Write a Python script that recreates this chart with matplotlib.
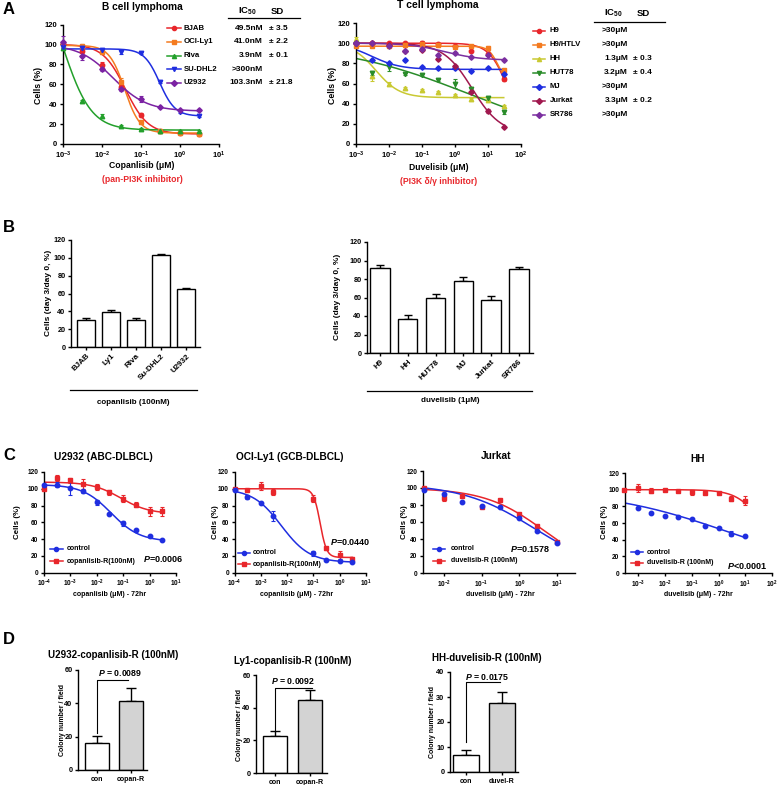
import matplotlib
matplotlib.use('Agg')
import matplotlib.pyplot as plt
import numpy as np
from matplotlib.ticker import FuncFormatter, NullLocator

plt.rcParams['font.family'] = ['Liberation Sans', 'DejaVu Sans']
plt.rcParams['font.weight'] = 'bold'
plt.rcParams['mathtext.fontset'] = 'custom'
plt.rcParams['mathtext.rm'] = 'Liberation Sans:bold'
plt.rcParams['mathtext.bf'] = 'Liberation Sans:bold'
plt.rcParams['mathtext.it'] = 'Liberation Sans:italic:bold'
plt.rcParams['axes.linewidth'] = 1.0

W, H = 778, 785

# ---------------- A : B cell lymphoma (copanlisib) ----------------
dose_a1 = [0.001, 0.003, 0.01, 0.03, 0.1, 0.3, 1, 3]
a1_names = ['BJAB', 'OCI-Ly1', 'Riva', 'SU-DHL2', 'U2932']
a1_ic50 = ['49.5nM', '41.0nM', '3.9nM', '>300nM', '103.3nM']
a1_sd = ['± 3.5', '± 2.2', '± 0.1', '', '± 21.8']
bjab = [100, 93, 79, 57, 29, 13, 11, 10]
oci_ly1 = [100, 98, 92, 62, 22, 13, 11, 10]
riva = [96, 43, 28, 18, 15, 13, 13, 13]
su_dhl2 = [97, 96, 94, 92, 91, 62, 32, 28]
u2932 = [102, 88, 75, 55, 45, 37, 34, 34]
bjab_sd = [1, 2, 3, 2, 2, 1, 1, 1]
oci_ly1_sd = [1, 2, 2, 4, 2, 1, 1, 1]
riva_sd = [1, 1, 2, 1, 1, 1, 1, 1]
su_dhl2_sd = [1, 1, 1, 2, 1, 1, 1, 1]
u2932_sd = [6, 4, 2, 2, 3, 1, 1, 1]
# fitted curves: top, bottom, IC50 (uM), hill
a1_fits = [(100, 10, 0.04, 1.5), (99, 11, 0.038, 2.2), (180, 14, 0.001, 1.2),
           (95.5, 28, 0.3, 2.2), (100, 33, 0.019, 1.0)]
a1_colors = ['#e8262b', '#f47b20', '#23a02b', '#1f2ee0', '#7b22a3']
a1_markers = ['o', 's', '^', 'v', 'D']

# ---------------- A : T cell lymphoma (duvelisib) ----------------
dose_a2 = [0.001, 0.003, 0.01, 0.03, 0.1, 0.3, 1, 3, 10, 30]
a2_names = ['H9', 'H9/HTLV', 'HH', 'HUT78', 'MJ', 'Jurkat', 'SR786']
a2_ic50 = ['>30μM', '>30μM', '1.3μM', '3.2μM', '>30μM', '3.3μM', '>30μM']
a2_sd = ['', '', '± 0.3', '± 0.4', '', '± 0.2', '']
h9 = [100, 100, 100, 100, 100, 99, 97, 92, 89, 64]
h9_htlv = [97, 97, 97, 98, 99, 98, 96, 97, 95, 73]
hh = [104, 67, 60, 56, 54, 52, 49, 45, 44, 38]
hut78 = [99, 70, 76, 69, 68, 63, 60, 55, 46, 32]
mj = [100, 83, 80, 83, 76, 75, 75, 72, 75, 69]
jurkat = [100, 100, 98, 92, 93, 84, 77, 52, 33, 17]
sr786 = [100, 100, 97, 92, 94, 88, 90, 86, 88, 83]
h9_sd = [1, 1, 1, 1, 2, 1, 1, 1, 1, 2]
h9_htlv_sd = [1, 1, 1, 2, 3, 2, 1, 1, 2, 1]
hh_sd = [2, 5, 1, 1, 1, 1, 1, 1, 1, 1]
hut78_sd = [1, 2, 4, 1, 1, 1, 4, 2, 2, 2]
mj_sd = [1, 1, 1, 1, 1, 1, 1, 1, 1, 1]
jurkat_sd = [1, 1, 1, 1, 1, 1, 1, 1, 2, 1]
sr786_sd = [1, 1, 1, 1, 1, 1, 1, 1, 1, 1]
a2_fits = [(100, 0, 45, 1.5), (97, 60, 20, 3), (100, 46, 0.004, 1.2), (100, 0, 2.5, 0.22),
           (100, 74, 0.003, 1.0), (100, 10, 3.3, 1.0), (100, 83, 0.5, 0.8)]
a2_colors = ['#e8262b', '#f47b20', '#c9c932', '#2a8c2a', '#1f2ee0', '#a0184e', '#7b2fa0']
a2_markers = ['o', 's', '^', 'v', 'D', 'D', 'D']

# ---------------- B : day 3 / day 0 ----------------
b1_cells = ['BJAB', 'Ly1', 'Riva', 'Su-DHL2', 'U2932']
b1_vals = [30.5, 39.5, 30.5, 103, 64.5]
b1_err = [2.5, 1.5, 2.5, 1.5, 2]
b2_cells = ['H9', 'HH', 'HUT78', 'MJ', 'Jurkat', 'SR786']
b2_vals = [92, 37, 59.5, 78, 57, 91]
b2_err = [3, 4, 4, 4, 5, 2]

# ---------------- C : resistant lines ----------------
c_titles = ['U2932 (ABC-DLBCL)', 'OCI-Ly1 (GCB-DLBCL)', 'Jurkat', 'HH']
c_xlabels = ['copanlisib (μM) - 72hr', 'copanlisib (μM) - 72hr',
             'duvelisib (μM) - 72hr', 'duvelisib (μM) - 72hr']
c_res_labels = ['copanlisib-R(100nM)', 'copanlisib-R(100nM)',
                'duvelisib-R (100nM)', 'duvelisib-R (100nM)']
c_pvals = [r'$\mathit{P}$=0.0006', r'$\mathit{P}$=0.0440',
           r'$\mathit{P}$=0.1578', r'$\mathit{P}$<0.0001']

c1_dose = [1e-4, 3e-4, 1e-3, 3e-3, 0.01, 0.03, 0.1, 0.3, 1, 3]
c1_ctrl = [104, 105, 101, 97, 84, 70, 59, 51, 43, 39]
c1_ctrl_sd = [1, 3, 8, 2, 3, 1, 3, 1, 1, 1]
c1_res = [100, 113, 110, 106, 102, 96, 88, 81, 73, 73]
c1_res_sd = [2, 4, 3, 6, 4, 3, 4, 3, 5, 5]

c2_dose_ctrl = [1e-4, 3e-4, 1e-3, 3e-3, 0.1, 0.3, 1, 3]
c2_ctrl = [99, 90, 83, 68, 23, 15, 14, 13]
c2_ctrl_sd = [1, 2, 1, 6, 3, 1, 1, 1]
c2_dose_res = [1e-4, 3e-4, 1e-3, 3e-3, 0.1, 0.3, 1, 3]
c2_res = [100, 99, 103, 96, 88, 29, 21, 16]
c2_res_sd = [1, 1, 5, 4, 4, 2, 5, 2]

c3_dose = [0.003, 0.01, 0.03, 0.1, 0.3, 1, 3, 10]
c3_ctrl = [98, 93, 84, 79, 78, 65, 50, 35]
c3_ctrl_sd = [1, 1, 1, 1, 1, 1, 1, 1]
c3_res = [100, 88, 91, 78, 86, 69, 55, 37]
c3_res_sd = [1, 3, 1, 1, 1, 1, 1, 1]

c4_dose = [3e-4, 1e-3, 3e-3, 0.01, 0.03, 0.1, 0.3, 1, 3, 10]
c4_ctrl = [np.nan, 78, 72, 68, 67, 65, 57, 54, 47, 45]
c4_ctrl_sd = [0, 1, 1, 1, 1, 1, 1, 1, 3, 1]
c4_res = [100, 102, 99, 100, 99, 97, 96, 96, 89, 87]
c4_res_sd = [1, 5, 3, 1, 1, 3, 1, 1, 3, 5]

c_ctrl_fits = [(105, 37, 0.035, 0.8), (100, 12, 0.006, 0.8), (105, 0, 2.5, 0.45), (100, 0, 2.0, 0.189)]
c_res_fits = [(108, 70, 0.08, 0.8), (100, 18, 0.18, 3.5), (100, 0, 4.5, 0.55), (100, 0, 60, 0.9)]

# ---------------- D : colony formation ----------------
d_titles = ['U2932-copanlisib-R (100nM)', 'Ly1-copanlisib-R (100nM)', 'HH-duvelisib-R (100nM)']
d_groups = [['con', 'copan-R'], ['con', 'copan-R'], ['con', 'duvel-R']]
d_vals = [[16.5, 41.5], [22.5, 45], [7, 27.5]]
d_err = [[4, 8], [3, 6], [2, 4.6]]
d_pvals = [r'$\mathit{P}$ = 0.0089', r'$\mathit{P}$ = 0.0092', r'$\mathit{P}$ = 0.0175']
d_ymax = [60, 60, 40]
d_ystep = [20, 20, 10]
d_bracket = [(22, 54, 0.9), (26, 52, 1.06), (12, 36, 0.94)]


def logistic(x, top, bottom, ic50, hill):
    return bottom + (top - bottom) / (1 + (x / ic50) ** hill)


fig = plt.figure(figsize=(W / 100, H / 100), dpi=100)


def add_ax(l, t, r, b):
    return fig.add_axes([l / W, 1 - b / H, (r - l) / W, (b - t) / H])


def prism(ax, fs):
    for s in ['top', 'right']:
        ax.spines[s].set_visible(False)
    ax.tick_params(direction='out', length=2.5, width=1.0, labelsize=fs, pad=1.5)
    ax.set_facecolor('none')


def log_fmt(v, pos):
    return r'$\mathbf{10^{%d}}$' % int(round(np.log10(v)))


def dose_axes(ax, xlim, decades, fs):
    prism(ax, fs)
    ax.set_xscale('log')
    ax.set_xlim(*xlim)
    ax.set_ylim(0, 120)
    ax.set_yticks(range(0, 121, 20))
    ax.set_xticks([10.0 ** d for d in decades])
    ax.xaxis.set_major_formatter(FuncFormatter(log_fmt))
    ax.xaxis.set_minor_locator(NullLocator())


def draw_series(ax, x, y, e, fit, color, marker, ms, x_end=None):
    ax.errorbar(x, y, yerr=e, fmt=marker, color=color, ms=ms, elinewidth=0.8,
                capsize=1.5, capthick=0.8, clip_on=False, zorder=3)
    xs = np.logspace(np.log10(x[0]), np.log10(x[-1] if x_end is None else x_end), 300)
    ax.plot(xs, logistic(xs, *fit), color=color, lw=1.1, zorder=2)


# ---- A left
ax = add_ax(63, 24.5, 219, 144)
dose_axes(ax, (1e-3, 10), range(-3, 2), 5.5)
a1_data = [bjab, oci_ly1, riva, su_dhl2, u2932]
a1_errs = [bjab_sd, oci_ly1_sd, riva_sd, su_dhl2_sd, u2932_sd]
for y, e, f, c, m in zip(a1_data, a1_errs, a1_fits, a1_colors, a1_markers):
    draw_series(ax, dose_a1, y, e, f, c, m, 3.2 if m != 'D' else 2.8)

# ---- A right
ax = add_ax(356, 23, 521, 144)
dose_axes(ax, (1e-3, 100), range(-3, 3), 5.5)
a2_data = [h9, h9_htlv, hh, hut78, mj, jurkat, sr786]
a2_errs = [h9_sd, h9_htlv_sd, hh_sd, hut78_sd, mj_sd, jurkat_sd, sr786_sd]
for y, e, f, c, m in zip(a2_data, a2_errs, a2_fits, a2_colors, a2_markers):
    draw_series(ax, dose_a2, y, e, f, c, m, 3.2 if m != 'D' else 2.8)


# ---- B
def bar_axes(box, cells, vals, err, xlim):
    ax = add_ax(*box)
    prism(ax, 5.2)
    n = len(cells)
    ax.bar(range(n), vals, width=0.7, color='white', edgecolor='black', linewidth=1.0, zorder=2)
    ax.errorbar(range(n), vals, yerr=[np.zeros(n), err], fmt='none', ecolor='black',
                elinewidth=1.0, capsize=3, capthick=1.0, zorder=1)
    ax.set_xlim(*xlim)
    ax.set_ylim(0, 120)
    ax.set_yticks(range(0, 121, 20))
    ax.set_xticks(range(n))
    ax.set_xticklabels(cells, rotation=45, ha='right', va='top', rotation_mode='anchor', fontsize=5.8)
    return ax


bar_axes((71, 240, 200, 347), b1_cells, b1_vals, b1_err, (-0.6, 4.56))
bar_axes((367, 242, 533, 353), b2_cells, b2_vals, b2_err, (-0.46, 5.5))

# ---- C
c_boxes = [(44, 472, 176, 572.5), (234.5, 472, 366, 572.5), (423, 471, 575, 573), (625, 473, 772, 573)]
c_xlims = [(1e-4, 10), (1e-4, 10), (0.0028, 30), (3.16e-4, 100)]
c_decs = [range(-4, 2), range(-4, 2), range(-2, 2), range(-3, 3)]
c_ctrl_sets = [(c1_dose, c1_ctrl, c1_ctrl_sd), (c2_dose_ctrl, c2_ctrl, c2_ctrl_sd),
               (c3_dose, c3_ctrl, c3_ctrl_sd), (c4_dose, c4_ctrl, c4_ctrl_sd)]
c_res_sets = [(c1_dose, c1_res, c1_res_sd), (c2_dose_res, c2_res, c2_res_sd),
              (c3_dose, c3_res, c3_res_sd), (c4_dose, c4_res, c4_res_sd)]
for i in range(4):
    ax = add_ax(*c_boxes[i])
    dose_axes(ax, c_xlims[i], c_decs[i], 4.7)
    xr, yr, er = c_res_sets[i]
    draw_series(ax, xr, yr, er, c_res_fits[i], '#e8262b', 's', 3.4)
    xc, yc, ec = c_ctrl_sets[i]
    draw_series(ax, xc, yc, ec, c_ctrl_fits[i], '#1f2ee0', 'o', 3.2)

# ---- D
d_boxes = [(78, 670, 147, 770), (256, 675, 327, 773), (450, 672, 518, 772)]
d_xlims = [(-0.56, 1.47), (-0.54, 1.49), (-0.44, 1.44)]
for i in range(3):
    ax = add_ax(*d_boxes[i])
    prism(ax, 5.3)
    ax.bar([0, 1], d_vals[i], width=0.7, color=['white', '#d3d3d3'], edgecolor='black',
           linewidth=1.0, zorder=2)
    ax.errorbar([0, 1], d_vals[i], yerr=[[0, 0], d_err[i]], fmt='none', ecolor='black',
                elinewidth=1.0, capsize=3.5, capthick=1.0, zorder=1)
    lo, hi, xe = d_bracket[i]
    ax.plot([0, 0, xe], [lo, hi, hi], color='black', lw=0.8, clip_on=False)
    ax.set_xlim(*d_xlims[i])
    ax.set_ylim(0, d_ymax[i])
    ax.set_yticks(range(0, d_ymax[i] + 1, d_ystep[i]))
    ax.set_xticks([0, 1])
    ax.set_xticklabels(d_groups[i], fontsize=5)

# ---------------- overlay for labels ----------------
ov = fig.add_axes([0, 0, 1, 1])
ov.set_xlim(0, W)
ov.set_ylim(H, 0)
ov.axis('off')


def txt(x, y, s, fs, ha='center', va='center', **kw):
    ov.text(x, y, s, fontsize=fs, ha=ha, va=va, fontweight='bold', **kw)


def legend_rows(x0, x1, xt, y0, pitch, colors, markers, labels, fs, ms):
    for k, (c, m, lab) in enumerate(zip(colors, markers, labels)):
        y = y0 + k * pitch
        ov.plot([x0, x1], [y, y], color=c, lw=1.1)
        ov.plot([(x0 + x1) / 2], [y], marker=m, color=c, ms=ms)
        txt(xt, y, lab, fs, ha='left')


# panel letters
for letter, y in zip('ABCD', [10, 228, 456, 640]):
    txt(3, y, letter, 12, ha='left')

# A texts
txt(142, 7, 'B cell lymphoma', 7.3)
txt(438, 5, 'T cell lymphoma', 7.5)
txt(39, 85, 'Cells (%)', 6.3, rotation=90)
txt(333, 85, 'Cells (%)', 6.3, rotation=90)
txt(142, 166, 'Copanlisib (μM)', 6.2)
txt(142, 180, '(pan-PI3K inhibitor)', 6.2, color='#e8262b')
txt(439, 168, 'Duvelisib (μM)', 6.2)
txt(439, 181, '(PI3K δ/γ inhibitor)', 6.2, color='#e8262b')

txt(247, 11, r'$\mathbf{IC_{50}}$', 6.8)
txt(277, 11, 'SD', 6.8)
ov.plot([228, 300], [18, 18], color='black', lw=0.9)
legend_rows(167, 181, 184, 28, 13.75, a1_colors, a1_markers, a1_names, 5.6, 3)
for k in range(5):
    txt(263, 28 + k * 13.75, a1_ic50[k], 6, ha='right')
    txt(269, 28 + k * 13.75, a1_sd[k], 6, ha='left')

txt(613, 13, r'$\mathbf{IC_{50}}$', 6.8)
txt(643, 13, 'SD', 6.8)
ov.plot([594, 665], [22, 22], color='black', lw=0.9)
legend_rows(533, 545, 550, 30.5, 14.05, a2_colors, a2_markers, a2_names, 5.6, 3)
for k in range(7):
    txt(628, 30.5 + k * 14.05, a2_ic50[k], 6, ha='right')
    txt(633, 30.5 + k * 14.05, a2_sd[k], 6, ha='left')

# B texts
txt(49, 293, 'Cells (day 3/day 0, %)', 6, rotation=90)
txt(338, 297, 'Cells (day 3/day 0, %)', 6, rotation=90)
ov.plot([70, 197], [390, 390], color='black', lw=0.9)
txt(133, 402, 'copanlisib (100nM)', 5.8)
ov.plot([367, 532], [391, 391], color='black', lw=0.9)
txt(450, 401, 'duvelisib (1μM)', 5.8)

# C texts
c_title_pos = [(103, 457), (290, 457), (496, 456), (698, 459)]
c_ylab_x = [18, 216, 405, 605]
c_xlab_x = [110, 297, 500, 698]
c_leg = [(50, 63, 67, 549, 12.3), (238, 250, 253, 553, 11), (433, 445, 451, 549, 12), (631, 643, 647, 552, 11)]
c_p_pos = [(143, 559), (330, 542), (510, 549), (727, 566)]
for i in range(4):
    txt(c_title_pos[i][0], c_title_pos[i][1], c_titles[i], 7.3)
    txt(c_ylab_x[i], 522, 'Cells (%)', 5.7, rotation=90)
    txt(c_xlab_x[i], 594, c_xlabels[i], 5)
    x0, x1, xt, y0, p = c_leg[i]
    legend_rows(x0, x1, xt, y0, p, ['#1f2ee0', '#e8262b'], ['o', 's'],
                ['control', c_res_labels[i]], 5, 3)
    txt(c_p_pos[i][0], c_p_pos[i][1], c_pvals[i], 6.5, ha='left')

# D texts
d_title_pos = [(113, 655), (293, 661), (487, 658)]
d_ylab = [(62, 720), (240, 725), (433, 722)]
d_p_pos = [(120, 673), (293, 681), (487, 677)]
for i in range(3):
    txt(d_title_pos[i][0], d_title_pos[i][1], d_titles[i], 7)
    txt(d_ylab[i][0], d_ylab[i][1], 'Colony number / field', 5, rotation=90)
    txt(d_p_pos[i][0], d_p_pos[i][1], d_pvals[i], 6.3)

fig.savefig('out.png', dpi=100)
